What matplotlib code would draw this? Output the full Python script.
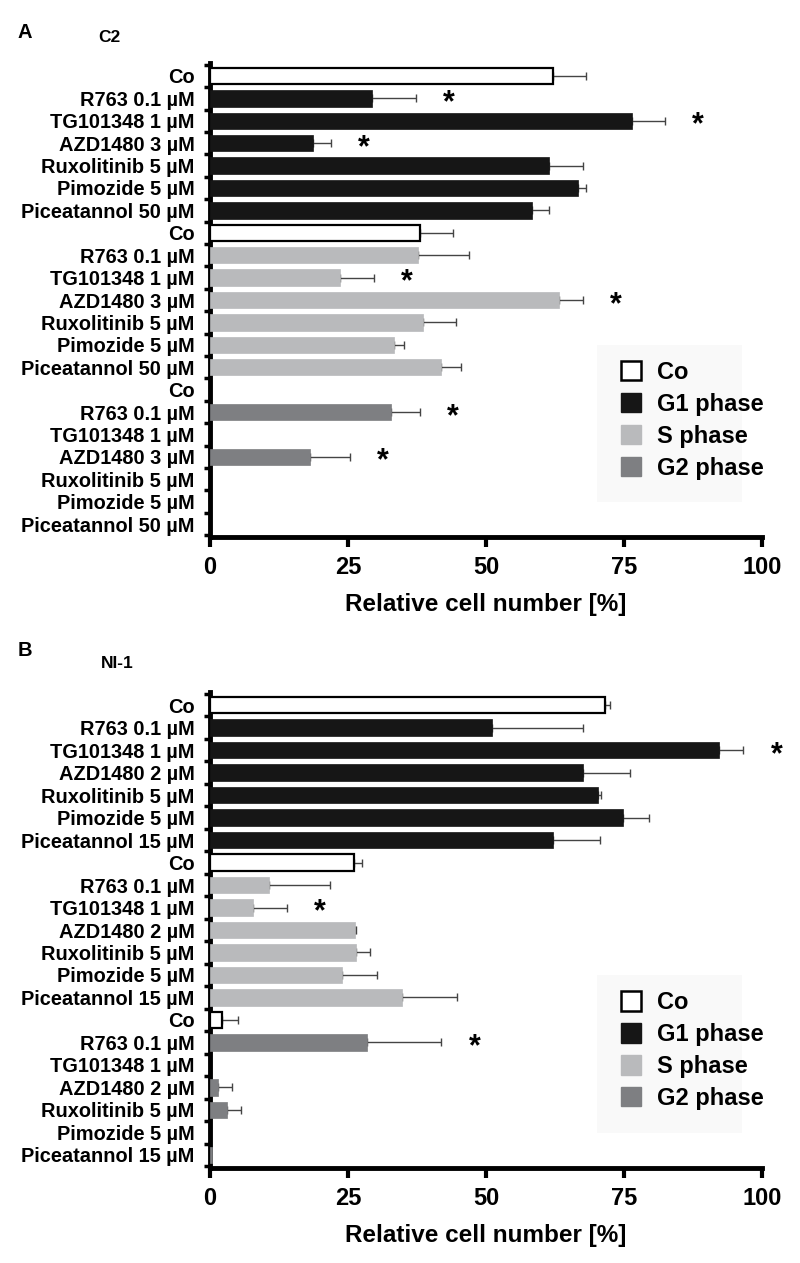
import matplotlib
matplotlib.use("Agg")
import matplotlib.pyplot as plt
from matplotlib.patches import Patch, Rectangle
from matplotlib.ticker import FixedLocator
import numpy as np

plt.rcParams['font.family'] = ['Liberation Sans', 'DejaVu Sans']

# ---------------- data ----------------
labels_A = ["Co", "R763 0.1 µM", "TG101348 1 µM", "AZD1480 3 µM",
            "Ruxolitinib 5 µM", "Pimozide 5 µM", "Piceatannol 50 µM"]
labels_B = ["Co", "R763 0.1 µM", "TG101348 1 µM", "AZD1480 2 µM",
            "Ruxolitinib 5 µM", "Pimozide 5 µM", "Piceatannol 15 µM"]
phases = ["G1 phase", "S phase", "G2 phase"]

A_G1 = [62.1, 29.4, 76.5, 18.7, 61.5, 66.6, 58.3]
A_G1_err = [6.1, 7.9, 5.9, 3.2, 6.0, 1.6, 3.1]
A_G1_sig = [0, 1, 1, 1, 0, 0, 0]
A_S = [38.0, 37.6, 23.6, 63.2, 38.5, 33.4, 41.9]
A_S_err = [6.1, 9.3, 6.1, 4.4, 6.0, 1.8, 3.5]
A_S_sig = [0, 0, 1, 1, 0, 0, 0]
A_G2 = [0, 32.8, 0, 18.2, 0, 0, 0]
A_G2_err = [0, 5.2, 0, 7.1, 0, 0, 0]
A_G2_sig = [0, 1, 0, 1, 0, 0, 0]

B_G1 = [71.6, 51.0, 92.2, 67.5, 70.2, 74.8, 62.2]
B_G1_err = [0.9, 16.6, 4.4, 8.5, 0.6, 4.8, 8.4]
B_G1_sig = [0, 0, 1, 0, 0, 0, 0]
B_S = [26.0, 10.7, 7.7, 26.2, 26.4, 24.0, 34.7]
B_S_err = [1.5, 11.0, 6.2, 0.2, 2.5, 6.2, 10.1]
B_S_sig = [0, 0, 1, 0, 0, 0, 0]
B_G2 = [2.1, 28.5, 0, 1.5, 3.0, 0, 0.4]
B_G2_err = [3.0, 13.4, 0, 2.4, 2.7, 0, 0]
B_G2_sig = [0, 1, 0, 0, 0, 0, 0]

xticks = [0, 25, 50, 75, 100]

phase_colors = {"G1 phase": "#161616", "S phase": "#b9babc", "G2 phase": "#7e7f82"}

fig = plt.figure(figsize=(8.0, 12.63), dpi=100)


def draw_panel(ax, labels, vals, errs, sigs):
    n = len(labels)
    ylabels = []
    pos = 0
    for ph, v, e, s in zip(phases, vals, errs, sigs):
        for i in range(n):
            ylabels.append(labels[i])
            if i == 0:
                fc, ec, lw = "white", "black", 1.6
            else:
                fc, ec, lw = phase_colors[ph], phase_colors[ph], 0.5
            if v[i] > 0:
                ax.barh(pos, v[i], height=0.73, color=fc, edgecolor=ec,
                        linewidth=lw, zorder=3)
            if e[i] > 0:
                ax.errorbar(v[i], pos, xerr=[[0], [e[i]]], fmt="none",
                            ecolor="#444444", elinewidth=1.0, capsize=3,
                            capthick=1.0, zorder=2)
            if s[i]:
                ax.text(v[i] + e[i] + 6, pos + 0.22, "*", ha="center", va="center",
                        fontsize=22, fontweight="bold", zorder=4)
            pos += 1
    ax.set_ylim(len(ylabels) - 0.42, -0.58)
    ax.set_xlim(0, 100)
    ax.set_yticks(range(len(ylabels)))
    ax.set_yticklabels(ylabels, fontsize=14.4, fontweight="bold")
    ax.tick_params(axis="y", which="major", length=0, pad=11)
    ax.yaxis.set_minor_locator(FixedLocator(np.arange(-0.5, len(ylabels), 1.0)))
    ax.tick_params(axis="y", which="minor", length=4, width=2.5)
    ax.set_xticks(xticks)
    ax.set_xticklabels([str(t) for t in xticks], fontsize=17, fontweight="bold")
    ax.tick_params(axis="x", length=7, width=3, pad=7)
    for sp in ["top", "right"]:
        ax.spines[sp].set_visible(False)
    for sp in ["left", "bottom"]:
        ax.spines[sp].set_linewidth(3.5)
    ax.set_xlabel("Relative cell number [%]", fontsize=17.5, fontweight="bold",
                  labelpad=10)
    # faint legend background
    ax.add_patch(Rectangle((0.701, 0.074), 0.263, 0.331, transform=ax.transAxes,
                           facecolor="#f9f9f9", edgecolor="none", zorder=0))
    handles = [Patch(facecolor="white", edgecolor="black", linewidth=1.8, label="Co")]
    for ph in phases:
        handles.append(Patch(facecolor=phase_colors[ph], edgecolor=phase_colors[ph],
                             label=ph))
    ax.legend(handles=handles, loc="upper left", bbox_to_anchor=(0.7446, 0.372),
              frameon=False, handlelength=0.85, handleheight=0.9,
              handletextpad=0.68, labelspacing=0.38, borderpad=0,
              borderaxespad=0, prop={"weight": "bold", "size": 17})


axA = fig.add_axes([0.2625, 1 - 537 / 1263, 0.690, 474 / 1263])
draw_panel(axA, labels_A, [A_G1, A_S, A_G2], [A_G1_err, A_S_err, A_G2_err],
           [A_G1_sig, A_S_sig, A_G2_sig])
axB = fig.add_axes([0.2625, 1 - 1168 / 1263, 0.690, 476 / 1263])
draw_panel(axB, labels_B, [B_G1, B_S, B_G2], [B_G1_err, B_S_err, B_G2_err],
           [B_G1_sig, B_S_sig, B_G2_sig])

fig.text(18 / 800, 1 - 33 / 1263, "A", fontsize=14.5, fontweight="bold", va="center")
fig.text(98 / 800, 1 - 37 / 1263, "C2", fontsize=12.5, fontweight="bold", va="center")
fig.text(18 / 800, 1 - 650 / 1263, "B", fontsize=14.5, fontweight="bold", va="center")
fig.text(101 / 800, 1 - 664 / 1263, "NI-1", fontsize=12.5, fontweight="bold", va="center")

fig.savefig("out.png", dpi=100)
